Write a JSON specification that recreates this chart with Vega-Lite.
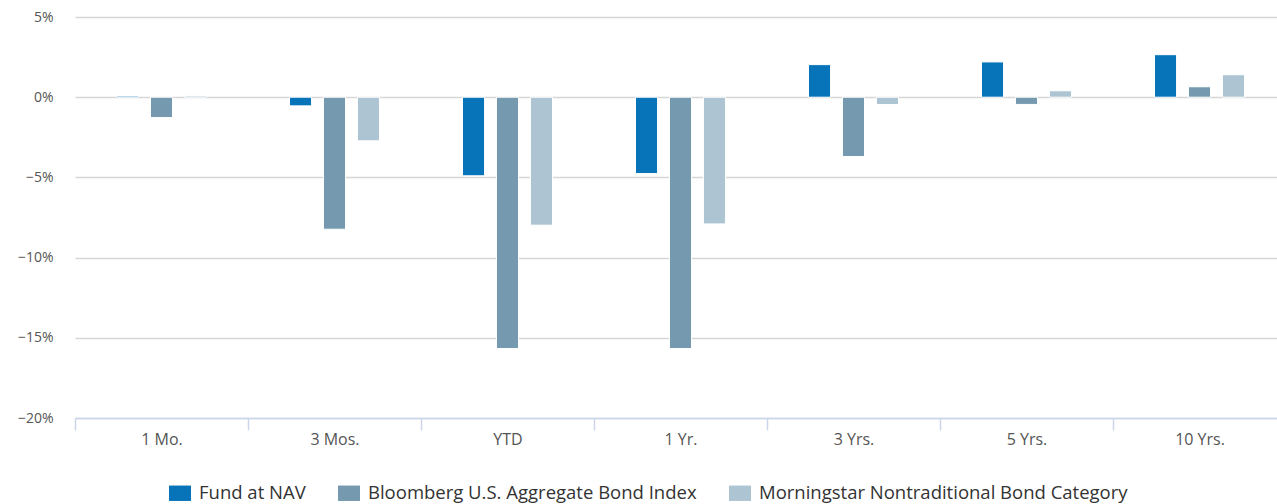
{
  "$schema": "https://vega.github.io/schema/vega-lite/v6.json",
  "autosize": "none",
  "width": 1202,
  "height": 401,
  "padding": {"left": 75, "top": 17, "right": 0, "bottom": 86},
  "background": "white",
  "config": {
    "view": {"stroke": null},
    "font": "Open Sans"
  },
  "data": {
    "values": [
      {"period": "1 Mo.", "series": "Fund at NAV", "value": 0.07},
      {"period": "1 Mo.", "series": "Bloomberg U.S. Aggregate Bond Index", "value": -1.27},
      {"period": "1 Mo.", "series": "Morningstar Nontraditional Bond Category", "value": 0.08},
      {"period": "3 Mos.", "series": "Fund at NAV", "value": -0.54},
      {"period": "3 Mos.", "series": "Bloomberg U.S. Aggregate Bond Index", "value": -8.23},
      {"period": "3 Mos.", "series": "Morningstar Nontraditional Bond Category", "value": -2.72},
      {"period": "YTD", "series": "Fund at NAV", "value": -4.9},
      {"period": "YTD", "series": "Bloomberg U.S. Aggregate Bond Index", "value": -15.67},
      {"period": "YTD", "series": "Morningstar Nontraditional Bond Category", "value": -7.98},
      {"period": "1 Yr.", "series": "Fund at NAV", "value": -4.76},
      {"period": "1 Yr.", "series": "Bloomberg U.S. Aggregate Bond Index", "value": -15.67},
      {"period": "1 Yr.", "series": "Morningstar Nontraditional Bond Category", "value": -7.9},
      {"period": "3 Yrs.", "series": "Fund at NAV", "value": 2.03},
      {"period": "3 Yrs.", "series": "Bloomberg U.S. Aggregate Bond Index", "value": -3.7},
      {"period": "3 Yrs.", "series": "Morningstar Nontraditional Bond Category", "value": -0.46},
      {"period": "5 Yrs.", "series": "Fund at NAV", "value": 2.2},
      {"period": "5 Yrs.", "series": "Bloomberg U.S. Aggregate Bond Index", "value": -0.45},
      {"period": "5 Yrs.", "series": "Morningstar Nontraditional Bond Category", "value": 0.4},
      {"period": "10 Yrs.", "series": "Fund at NAV", "value": 2.65},
      {"period": "10 Yrs.", "series": "Bloomberg U.S. Aggregate Bond Index", "value": 0.65},
      {"period": "10 Yrs.", "series": "Morningstar Nontraditional Bond Category", "value": 1.4}
    ]
  },
  "mark": {"type": "bar", "stroke": "white", "strokeWidth": 1},
  "encoding": {
    "x": {
      "field": "period",
      "type": "nominal",
      "sort": ["1 Mo.", "3 Mos.", "YTD", "1 Yr.", "3 Yrs.", "5 Yrs.", "10 Yrs."],
      "scale": {"paddingInner": 0, "paddingOuter": 0, "range": [0, 1211]},
      "axis": {
        "title": null,
        "labelAngle": 0,
        "tickBand": "extent",
        "grid": false,
        "domainColor": "#ccd6eb",
        "domainWidth": 1.5,
        "tickColor": "#ccd6eb",
        "tickWidth": 1.5,
        "tickSize": 12,
        "labelPadding": 1,
        "labelFontSize": 16,
        "labelColor": "#555555",
        "labelFont": "Open Sans"
      }
    },
    "xOffset": {
      "field": "series",
      "type": "nominal",
      "sort": ["Fund at NAV", "Bloomberg U.S. Aggregate Bond Index", "Morningstar Nontraditional Bond Category"],
      "scale": {"paddingInner": 0.35, "paddingOuter": 0, "range": [41.5, 131.5]}
    },
    "y": {
      "field": "value",
      "type": "quantitative",
      "scale": {"domain": [-20, 5], "nice": false, "zero": true},
      "axis": {
        "title": null,
        "values": [-20, -15, -10, -5, 0, 5],
        "format": "d",
        "labelExpr": "datum.label + '%'",
        "domain": false,
        "ticks": false,
        "grid": true,
        "gridColor": "#d6d6d6",
        "gridWidth": 1.5,
        "labelPadding": 22,
        "labelFontSize": 14,
        "labelColor": "#555555",
        "labelFont": "Open Sans"
      }
    },
    "color": {
      "field": "series",
      "type": "nominal",
      "sort": ["Fund at NAV", "Bloomberg U.S. Aggregate Bond Index", "Morningstar Nontraditional Bond Category"],
      "scale": {"range": ["#0773b9", "#7599ae", "#adc5d2"]},
      "legend": {
        "title": null,
        "orient": "none",
        "legendX": 94,
        "legendY": 465,
        "direction": "horizontal",
        "symbolType": "M-1,-0.7H1V0.7H-1Z",
        "symbolSize": 484,
        "symbolStrokeWidth": 0,
        "symbolOpacity": 1,
        "labelFontSize": 18.5,
        "labelColor": "#333333",
        "labelFont": "Open Sans",
        "labelOffset": 8,
        "columnPadding": 32,
        "labelLimit": 600
      }
    }
  }
}
